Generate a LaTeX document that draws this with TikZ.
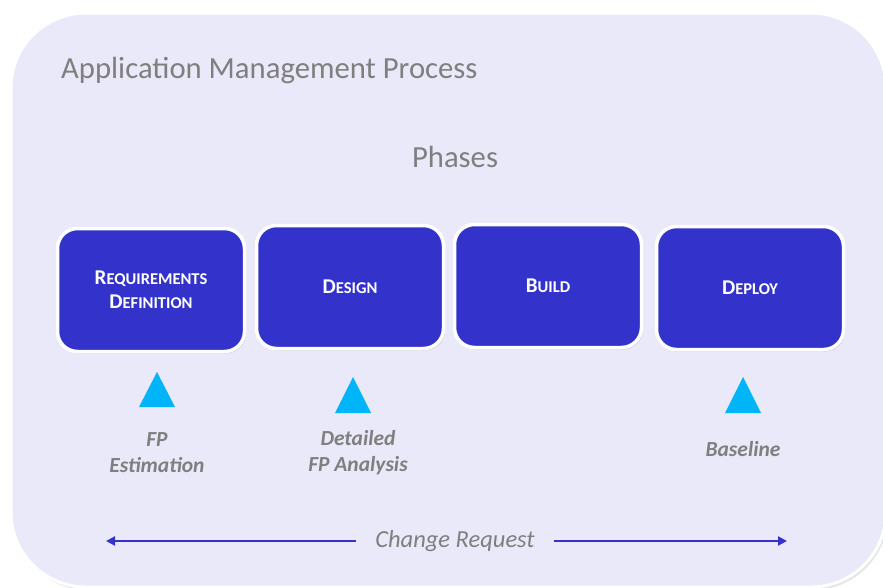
\documentclass[tikz,border=0pt]{standalone}
\usepackage{fontspec}
\setmainfont{Carlito}
\usetikzlibrary{arrows.meta,shadows}
\definecolor{panel}{HTML}{EAE9F9}
\definecolor{phase}{HTML}{3333CC}
\definecolor{tri}{HTML}{00B4F8}
\definecolor{txtgray}{HTML}{7F7F7F}
\newcommand{\fsc}[2]{{\fontsize{21}{24}\selectfont #1}{\fontsize{16.5}{24}\selectfont #2}}
\tikzset{
  phasebox/.style={draw=white, line width=3.5pt, fill=phase, rounded corners=20pt,
    minimum width=187pt, minimum height=123pt, text=white, font=\bfseries,
    align=center, inner sep=0pt, drop shadow={shadow xshift=1.5pt, shadow yshift=-2pt, opacity=0.25}},
  milestone/.style={fill=tri},
  mslabel/.style={text=txtgray, font=\fontsize{21.5}{26}\selectfont\bfseries\itshape, align=center, inner sep=0pt},
  crarrow/.style={draw=phase, line width=2.2pt, -{Triangle[length=9pt,width=9pt]}},
}
\begin{document}
\begin{tikzpicture}[x=1pt,y=-1pt]
\useasboundingbox (0,0) rectangle (883,587);
\fill[white] (0,0) rectangle (883,587);
% panel
\begin{scope}
\clip (0,0) rectangle (883,587);
\fill[black!10, rounded corners=75pt] (13,16) rectangle (888,590);
\path[rounded corners=75pt, fill=panel, draw=white, line width=3pt] (11,13) rectangle (886,587);
\end{scope}
% titles
\node[text=txtgray, font=\fontsize{30.7}{36}\selectfont, anchor=west, inner sep=0pt] (title) at (61,70) {Application Management Process};
\node[text=txtgray, font=\fontsize{30.7}{36}\selectfont, inner sep=0pt] (phases) at (455,157) {Phases};
% phases
\node[phasebox] (req) at (151,290) {\fsc{R}{EQUIREMENTS}\\[7pt]\fsc{D}{EFINITION}};
\node[phasebox] (des) at (350,287) {\fsc{D}{ESIGN}};
\node[phasebox] (bld) at (548,286) {\fsc{B}{UILD}};
\node[phasebox] (dep) at (750,288) {\fsc{D}{EPLOY}};
% milestones
\fill[milestone] (139,407) -- (157,372) -- (175,407) -- cycle;
\fill[milestone] (335,413) -- (353,377) -- (371,413) -- cycle;
\fill[milestone] (725,413) -- (743,377) -- (761,413) -- cycle;
\node[mslabel] (l1) at (157,453) {FP\\Estimation};
\node[mslabel] (l2) at (358,453) {Detailed\\FP Analysis};
\node[mslabel] (l3) at (743,449) {Baseline};
% change request
\node[text=txtgray, font=\fontsize{24.5}{28}\selectfont\itshape, inner xsep=19pt, inner ysep=0pt] (cr) at (455,541) {Change Request};
\coordinate (crL) at (106,541);
\coordinate (crR) at (787,541);
\draw[crarrow] (cr.west |- crL) -- (crL);
\draw[crarrow] (cr.east |- crR) -- (crR);
\end{tikzpicture}
\end{document}
